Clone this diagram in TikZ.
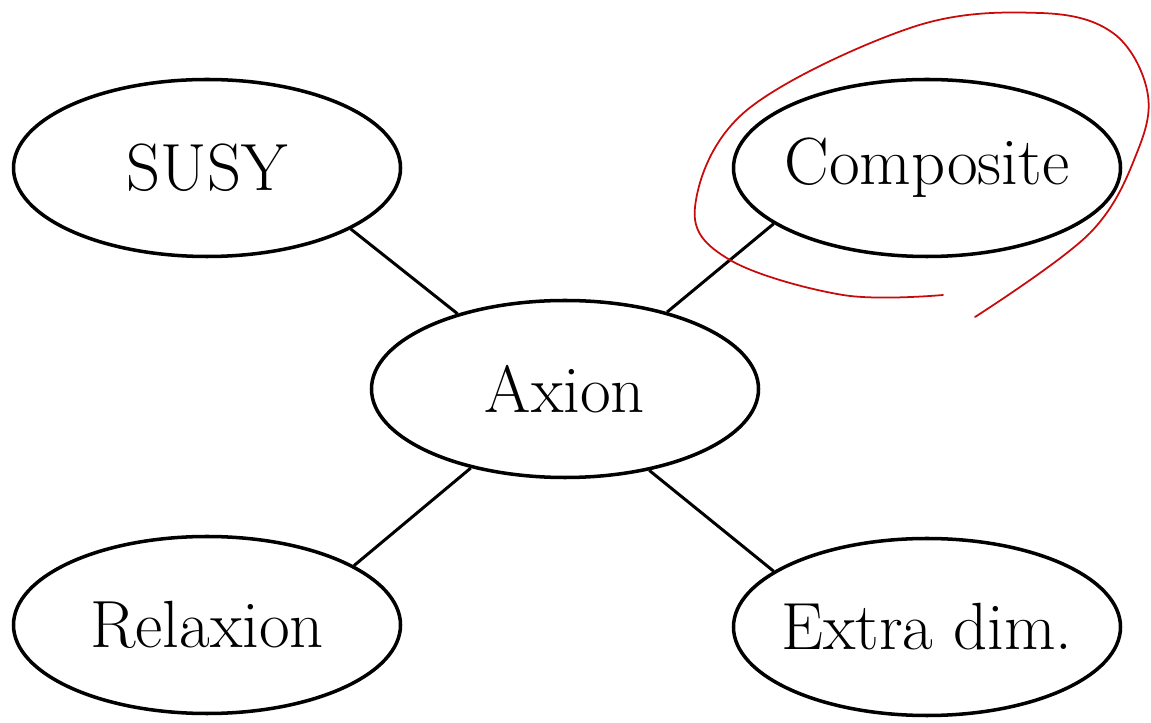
\documentclass[tikz,border=0pt]{standalone}
\usepackage{tikz}
\usetikzlibrary{shapes.geometric,positioning}
\definecolor{pen}{RGB}{200,10,10}
% label that does not widen its ellipse
\newcommand{\lbl}[1]{\makebox[0pt]{#1}}
\tikzset{
    % ellipse around each model
    topic/.style={
        ellipse,
        draw=black,
        line width=2pt,
        fill=white,
        inner sep=0pt,
        minimum width=77.4mm,
        minimum height=35.4mm,
        font=\fontsize{38}{44}\selectfont
    },
    % plain line between two ellipses
    link/.style={
        line width=1.7pt,
        black
    }
}

\begin{document}
\begin{tikzpicture}[x=0.2mm,y=-0.2mm]
	\useasboundingbox (0,0) rectangle (1151,723);
	
	% 椭圆
	\node[topic] (axion) at (565,389) {\lbl{Axion}};
	\node[topic] (susy) at (207,168) {\lbl{SUSY}};
	\node[topic] (comp) at (927,168) {\lbl{Composite}};
	\node[topic] (relax) at (207,625) {\lbl{Relaxion}};
	\node[topic] (extra) at (927,627) {\lbl{Extra dim.}};
	
	% 连线
	\draw[link] (susy.-23) -- (axion.145);
	\draw[link] (comp.200) -- (axion.37);
	\draw[link] (relax.22) -- (axion.220);
	\draw[link] (extra.160) -- (axion.-44);
	
	% 红色手写圈
	\draw[pen,line width=1pt,line cap=round] plot[smooth,tension=0.6] coordinates {
		(943,295) (843,295) (730,260) (695,207) (747,110) (913,27)
		(1040,13) (1113,33) (1147,90) (1138,150) (1090,233) (975,317)};
\end{tikzpicture}
\end{document}
